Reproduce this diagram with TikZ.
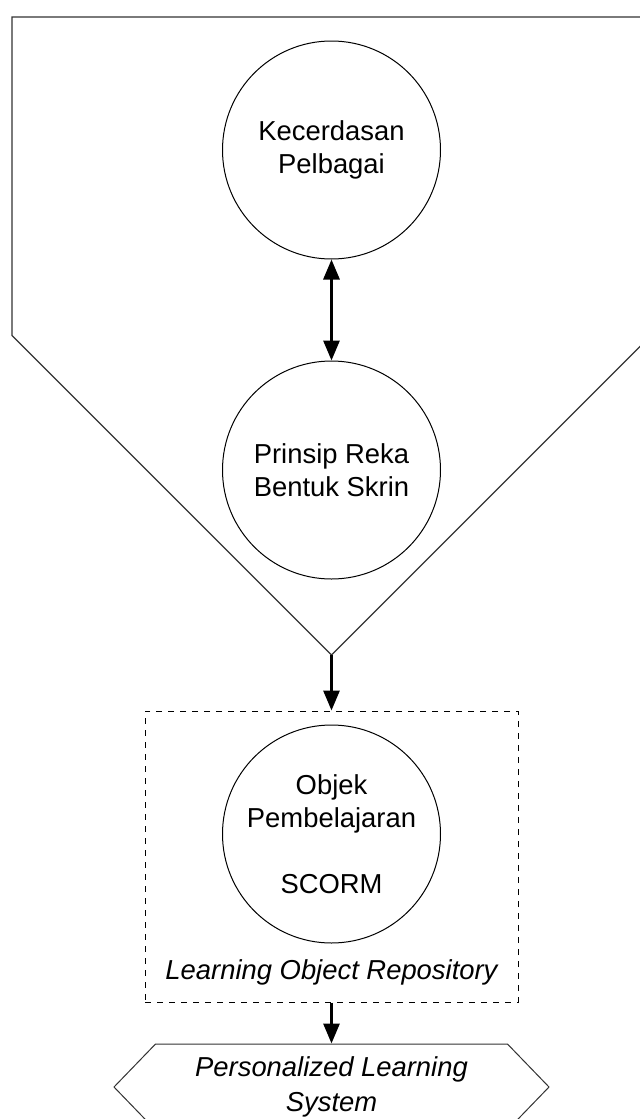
\documentclass[tikz,border=0pt]{standalone}
\usepackage{fontspec}
\setmainfont{Liberation Sans}
\usetikzlibrary{arrows.meta, positioning, shapes.symbols}

\begin{document}
\begin{tikzpicture}[x=0.5pt, y=-0.5pt, node distance=50pt, >={Triangle[length=10pt, width=8pt]}]
        \tikzstyle{bubble} = [circle, draw, line width=0.5pt, minimum size=109pt, inner sep=0pt, align=center, font=\fontsize{13.7}{16.5}\selectfont]
        \tikzstyle{repo} = [rectangle, draw, dashed, line width=0.5pt, minimum width=186.5pt, minimum height=145.5pt]
        \tikzstyle{system} = [signal, signal to=east and west, signal pointer angle=92, draw, black!80, text=black, line width=0.5pt, minimum width=217.5pt, minimum height=43pt, inner sep=0pt, align=center, font=\fontsize{13.7}{17.5}\selectfont\itshape]
        \tikzstyle{flow} = [->, line width=1.5pt]

        \useasboundingbox (0,0) rectangle (640,1119);

        % funnel round the two principles
        \coordinate (tip) at (331.5,655);
        \draw [black!80, line width=0.6pt] (12,335.5) -- (12,17) -- (651,17) -- (651,335.5) -- (tip) -- cycle;

        \node [bubble] (mi) at (331.5,150) {Kecerdasan\\Pelbagai};
        \node [bubble, below=50.5pt of mi] (screen) {Prinsip Reka\\Bentuk Skrin};

        \node [repo] (lor) at (331.5,856.5) {};
        \node [bubble, below=7pt of lor.north] (obj) {Objek\\Pembelajaran\\[16.5pt]SCORM};
        \node [above=5pt of lor.south, font=\fontsize{13.7}{16.5}\selectfont\itshape] (lorname) {Learning Object Repository};

        \node [system, below=20.5pt of lor] (pls) {Personalized Learning\\System};

        \draw [flow, <->] (mi) -- (screen);
        \draw [flow] (tip) -- (lor.north);
        \draw [flow] (lor.south) -- (pls.north);
    \end{tikzpicture}
\end{document}
